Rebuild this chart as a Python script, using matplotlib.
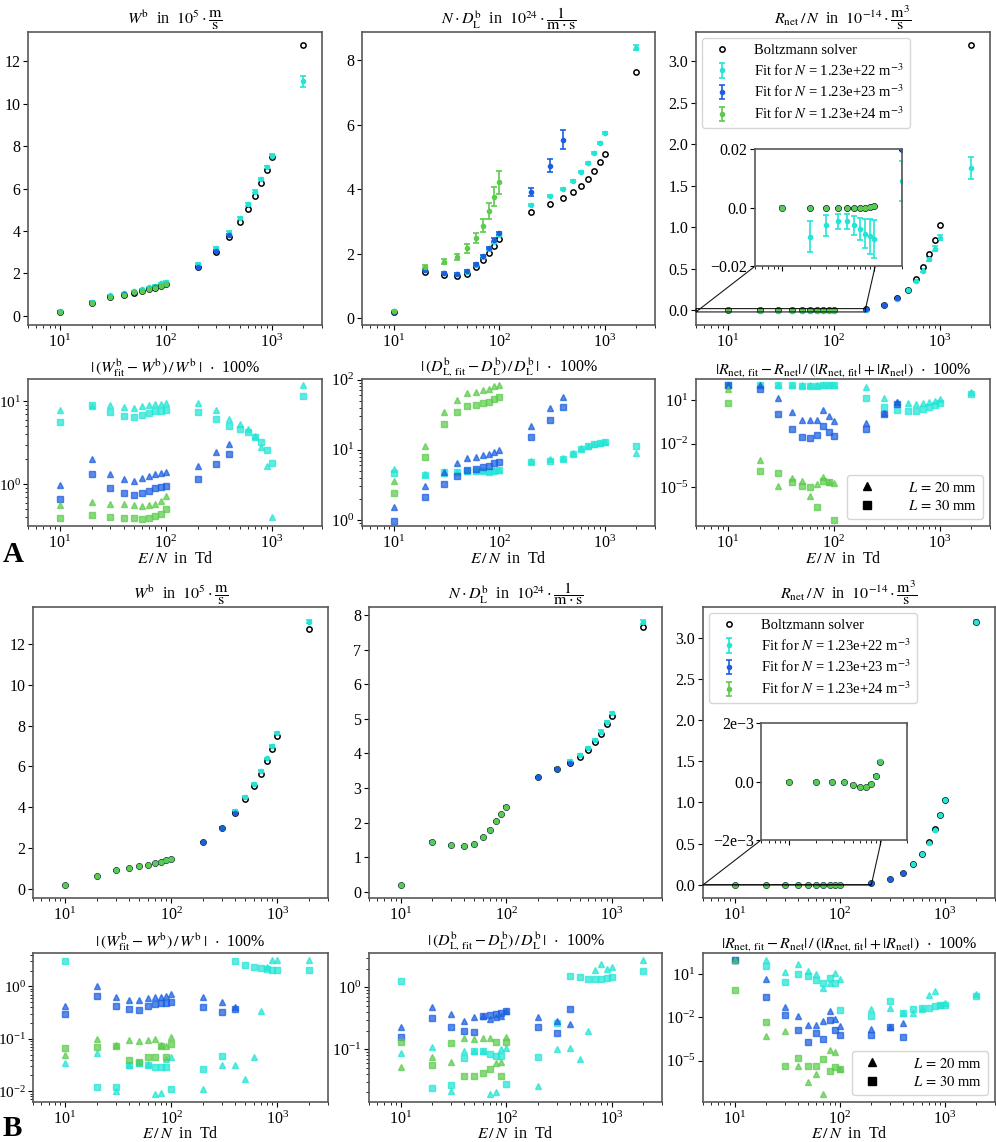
import matplotlib
matplotlib.use("Agg")
import matplotlib.pyplot as plt
from matplotlib.lines import Line2D
from matplotlib.ticker import NullLocator, FixedLocator

plt.rcParams['font.family'] = ['Liberation Serif', 'DejaVu Serif']
plt.rcParams['mathtext.fontset'] = 'stix'
plt.rcParams['font.size'] = 11
plt.rcParams['xtick.labelsize'] = 11.5
plt.rcParams['ytick.labelsize'] = 11.5
plt.rcParams['ytick.major.pad'] = 2
plt.rcParams['xtick.major.pad'] = 2.5
plt.rcParams['axes.edgecolor'] = '0.35'
plt.rcParams['axes.linewidth'] = 1.2

# ---------------- data ----------------
EN = [10, 20, 30, 40, 50, 60, 70, 80, 90, 100, 200, 300, 400, 500, 600, 700, 800, 900, 1000, 2000]

boltz_W = [0.2, 0.62, 0.9, 1.0, 1.1, 1.18, 1.25, 1.33, 1.42, 1.48, 2.28, 3.0, 3.72, 4.4, 5.03, 5.65, 6.27, 6.87, 7.47, 12.75]
boltz_D = [0.21, 1.45, 1.35, 1.32, 1.38, 1.59, 1.8, 2.04, 2.25, 2.46, 3.31, 3.55, 3.72, 3.91, 4.1, 4.32, 4.57, 4.84, 5.09, 7.64]
boltz_R = [0.0, 0.0, 0.0, -0.00003, -0.0001, -0.00017, -0.00018, -0.00007, 0.0002, 0.00069, 0.02, 0.067, 0.147, 0.248, 0.377, 0.52, 0.673, 0.851, 1.024, 3.19]

# Panel A fits
A_W_cyan = [0.215, 0.675, 0.97, 1.07, 1.17, 1.26, 1.34, 1.43, 1.53, 1.6, 2.45, 3.2, 3.92, 4.6, 5.25, 5.86, 6.45, 7.0, 7.55, 11.05]
A_W_cyan_err = [0.01, 0.02, 0.02, 0.02, 0.02, 0.02, 0.02, 0.02, 0.02, 0.03, 0.05, 0.06, 0.07, 0.07, 0.07, 0.07, 0.07, 0.07, 0.08, 0.25]
A_W_blue = [0.202, 0.628, 0.91, 1.01, 1.11, 1.19, 1.26, 1.34, 1.43, 1.49, 2.31, 3.05, 3.8]
A_W_blue_err = [0.005, 0.01, 0.01, 0.01, 0.01, 0.01, 0.01, 0.01, 0.01, 0.01, 0.03, 0.04, 0.05]
A_W_green = [0.201, 0.623, 0.904, 1.004, 1.104, 1.185, 1.256, 1.336, 1.427, 1.487]
A_W_green_err = [0.003, 0.005, 0.005, 0.005, 0.005, 0.005, 0.005, 0.005, 0.005, 0.005]

A_D_cyan = [0.22, 1.51, 1.41, 1.38, 1.45, 1.67, 1.89, 2.14, 2.36, 2.59, 3.52, 3.81, 4.0, 4.27, 4.54, 4.83, 5.14, 5.44, 5.75, 8.39]
A_D_cyan_err = [0.005, 0.02, 0.02, 0.02, 0.02, 0.02, 0.02, 0.02, 0.03, 0.03, 0.03, 0.03, 0.03, 0.03, 0.03, 0.03, 0.03, 0.03, 0.03, 0.08]
A_D_blue = [0.212, 1.49, 1.4, 1.38, 1.47, 1.69, 1.92, 2.18, 2.43, 2.64, 3.92, 4.74, 5.54]
A_D_blue_err = [0.005, 0.03, 0.03, 0.03, 0.03, 0.03, 0.04, 0.04, 0.05, 0.05, 0.12, 0.2, 0.3]
A_D_green = [0.22, 1.6, 1.76, 1.9, 2.17, 2.49, 2.88, 3.33, 3.78, 4.22]
A_D_green_err = [0.005, 0.05, 0.07, 0.1, 0.13, 0.16, 0.2, 0.24, 0.3, 0.35]

A_R_cyan = [0.0, -0.0099, -0.006, -0.0046, -0.0046, -0.006, -0.0072, -0.0088, -0.0097, -0.0105, 0.0091, 0.064, 0.14, 0.24, 0.353, 0.474, 0.614, 0.743, 0.871, 1.715]
A_R_cyan_err = [0.0005, 0.0053, 0.0036, 0.0026, 0.0026, 0.0033, 0.0037, 0.005, 0.006, 0.0065, 0.0069, 0.008, 0.01, 0.012, 0.015, 0.018, 0.022, 0.026, 0.03, 0.13]
A_R_blue = [0.0, 0.0, 0.0, -0.00003, -0.0001, -0.00017, -0.00018, -0.00007, 0.0002, 0.0007, 0.0201, 0.068, 0.15]
A_R_blue_err = [0.0001, 0.0001, 0.0001, 0.0001, 0.0001, 0.0001, 0.0001, 0.0001, 0.0001, 0.0001, 0.0004, 0.001, 0.002]
A_R_green = [0.0, 0.0, 0.0, -0.00003, -0.0001, -0.00017, -0.00018, -0.00007, 0.0002, 0.00069]
A_R_green_err = [0.00002, 0.00002, 0.00002, 0.00002, 0.00002, 0.00002, 0.00002, 0.00002, 0.00002, 0.00002]

# Panel B fits
B_W_cyan = [0.206, 0.62, 0.9, 1.0, 1.1, 1.18, 1.25, 1.33, 1.42, 1.48, 2.28, 3.0, 3.83, 4.52, 5.15, 5.78, 6.4, 7.02, 7.63, 13.08]
B_W_cyan_err = [0.002, 0.003, 0.003, 0.003, 0.003, 0.003, 0.003, 0.003, 0.003, 0.003, 0.01, 0.01, 0.02, 0.02, 0.02, 0.03, 0.03, 0.04, 0.05, 0.08]
B_W_blue = [0.2, 0.62, 0.9, 1.0, 1.1, 1.18, 1.25, 1.33, 1.42, 1.48, 2.28, 3.0, 3.73]
B_W_blue_err = [0.002, 0.003, 0.003, 0.003, 0.003, 0.003, 0.003, 0.003, 0.003, 0.003, 0.01, 0.01, 0.01]
B_W_green = [0.2, 0.62, 0.9, 1.0, 1.1, 1.18, 1.25, 1.33, 1.42, 1.48]
B_W_green_err = [0.002, 0.002, 0.002, 0.002, 0.002, 0.002, 0.002, 0.002, 0.002, 0.002]

B_D_cyan = [0.21, 1.45, 1.35, 1.32, 1.38, 1.59, 1.8, 2.04, 2.25, 2.46, 3.31, 3.55, 3.78, 3.96, 4.16, 4.38, 4.63, 4.91, 5.16, 7.8]
B_D_cyan_err = [0.003, 0.01, 0.01, 0.01, 0.01, 0.01, 0.01, 0.01, 0.01, 0.01, 0.01, 0.02, 0.02, 0.03, 0.03, 0.03, 0.04, 0.04, 0.04, 0.05]
B_D_blue = [0.21, 1.45, 1.35, 1.32, 1.38, 1.59, 1.8, 2.04, 2.25, 2.46, 3.31, 3.56, 3.73]
B_D_blue_err = [0.003, 0.01, 0.01, 0.01, 0.01, 0.01, 0.01, 0.01, 0.01, 0.01, 0.01, 0.01, 0.01]
B_D_green = [0.21, 1.45, 1.35, 1.32, 1.38, 1.59, 1.8, 2.04, 2.25, 2.46]
B_D_green_err = [0.003, 0.005, 0.005, 0.005, 0.005, 0.005, 0.005, 0.005, 0.005, 0.005]

B_R_cyan = [0.0, 0.0, 0.0, -0.00003, -0.0001, -0.00017, -0.00018, -0.00007, 0.0002, 0.0007, 0.02, 0.067, 0.147, 0.246, 0.37, 0.51, 0.67, 0.85, 1.03, 3.19]
B_R_cyan_err = [0.00001, 0.00001, 0.00001, 0.00001, 0.00001, 0.00001, 0.00001, 0.00001, 0.00001, 0.00001, 0.0002, 0.0005, 0.001, 0.002, 0.003, 0.004, 0.005, 0.006, 0.007, 0.02]
B_R_blue = [0.0, 0.0, 0.0, -0.00003, -0.0001, -0.00017, -0.00018, -0.00007, 0.0002, 0.00069, 0.02, 0.067, 0.147]
B_R_blue_err = [0.00001, 0.00001, 0.00001, 0.00001, 0.00001, 0.00001, 0.00001, 0.00001, 0.00001, 0.00001, 0.0002, 0.0005, 0.001]
B_R_green = [0.0, 0.0, 0.0, -0.00003, -0.0001, -0.00017, -0.00018, -0.00007, 0.0002, 0.00069]
B_R_green_err = [0.000005, 0.000005, 0.000005, 0.000005, 0.000005, 0.000005, 0.000005, 0.000005, 0.000005, 0.000005]

# Relative errors (%) : triangles L=20 mm, squares L=30 mm
A_relW_cyan_tri = [7.8, 8.7, 8.95, 8.5, 8.4, 8.7, 9.0, 9.3, 9.4, 9.6, 9.6, 7.8, 6.1, 5.3, 4.6, 3.8, 2.8, 1.67, 0.4, 15.6]
A_relW_cyan_sq = [5.7, 9.1, 7.5, 6.7, 6.5, 6.9, 7.2, 7.55, 7.7, 7.9, 7.5, 6.1, 5.1, 4.6, 4.3, 3.75, 3.25, 2.6, 1.8, 11.5]
A_relW_blue_tri = [0.98, 2.0, 1.32, 1.15, 1.1, 1.18, 1.24, 1.31, 1.35, 1.4, 1.64, 2.44, 3.05]
A_relW_blue_sq = [0.66, 1.32, 0.89, 0.78, 0.74, 0.79, 0.83, 0.89, 0.92, 0.95, 1.15, 1.76, 2.33]
A_relW_green_tri = [0.56, 0.61, 0.57, 0.57, 0.56, 0.55, 0.56, 0.58, 0.62, 0.72]
A_relW_green_sq = [0.39, 0.43, 0.40, 0.39, 0.39, 0.38, 0.39, 0.41, 0.44, 0.50]

A_relD_cyan_tri = [5.3, 4.5, 4.7, 4.8, 5.0, 5.1, 5.1, 5.0, 5.1, 5.2, 6.9, 7.3, 7.6, 9.0, 10.5, 11.5, 12.2, 12.6, 13.0, 8.95]
A_relD_cyan_sq = [4.6, 4.3, 4.8, 4.9, 5.0, 5.0, 5.0, 4.9, 5.0, 5.1, 6.7, 7.0, 7.4, 8.8, 10.2, 11.2, 11.9, 12.4, 12.7, 11.5]
A_relD_blue_tri = [1.52, 3.0, 4.8, 6.4, 7.6, 7.9, 8.3, 8.8, 9.4, 10.0, 22, 39, 56]
A_relD_blue_sq = [0.97, 2.1, 3.25, 4.25, 5.1, 5.3, 5.6, 5.9, 6.4, 6.8, 15.2, 27, 41]
A_relD_green_tri = [3.6, 11.5, 35, 51, 64, 66, 70, 73, 80, 85]
A_relD_green_sq = [2.4, 7.9, 23.5, 34, 42.5, 44, 46.5, 48.5, 53, 56.5]

A_relR_cyan_tri = [100, 100, 100, 100, 100, 100, 100, 100, 100, 100, 75, 14.5, 7.3, 5.9, 5.3, 6.5, 7.7, 9.0, 11, 32]
A_relR_cyan_sq = [100, 99, 98, 97, 95, 95, 96, 98, 99, 99, 13, 3.1, 2.0, 1.7, 1.8, 2.5, 3.4, 4.5, 6.5, 26]
A_relR_blue_tri = [98, 98, 13, 1.5, 0.41, 0.39, 0.41, 2.0, 0.78, 0.35, 0.24, 1.33, 7.3]
A_relR_blue_sq = [98, 58, 1.13, 0.093, 0.029, 0.026, 0.038, 0.16, 0.061, 0.034, 0.098, 1.07, 5.0]
A_relR_green_tri = [58, 7e-4, 1.2e-5, 4.5e-5, 2.9e-5, 2.4e-6, 1.6e-5, 5.4e-5, 2.5e-5, 1.9e-5]
A_relR_green_sq = [5.9, 1.4e-4, 1e-4, 2.2e-5, 1.2e-5, 1e-5, 4.6e-7, 2.9e-5, 2.2e-5, 5.8e-8]

B_relW_cyan_tri = [0.034, 0.053, 0.010, 0.032, 0.035, 0.033, 0.009, 0.0093, 0.042, 0.045, 0.011, 0.032, 0.031, 0.017, 0.045, 0.34, 2.35, 3.15, 3.15, 3.15]
B_relW_cyan_sq = [3.0, 0.012, 0.012, 0.031, 0.034, 0.031, 0.029, 0.029, 0.029, 0.011, 0.026, 0.047, 3.0, 2.6, 2.35, 2.25, 2.15, 2.08, 2.08, 2.08]
B_relW_blue_tri = [0.43, 1.0, 0.64, 0.55, 0.55, 0.6, 0.62, 0.64, 0.66, 0.71, 0.62, 0.5, 0.41]
B_relW_blue_sq = [0.295, 0.66, 0.43, 0.37, 0.36, 0.43, 0.46, 0.48, 0.49, 0.51, 0.41, 0.33, 0.37]
B_relW_green_tri = [0.05, 0.10, 0.076, 0.095, 0.092, 0.095, 0.098, 0.076, 0.073, 0.107]
B_relW_green_sq = [0.066, 0.069, 0.072, 0.039, 0.036, 0.044, 0.045, 0.072, 0.045, 0.079]

B_relD_cyan_tri = [0.086, 0.108, 0.021, 0.092, 0.092, 0.092, 0.019, 0.02, 0.1, 0.106, 0.025, 0.1, 0.106, 0.069, 0.194, 1.88, 2.42, 1.98, 2.1, 2.74]
B_relD_cyan_sq = [1.25, 0.024, 0.026, 0.072, 0.092, 0.092, 0.083, 0.078, 0.079, 0.027, 0.074, 0.27, 1.55, 1.45, 1.37, 1.37, 1.37, 1.42, 1.45, 1.82]
B_relD_blue_tri = [0.227, 0.48, 0.374, 0.29, 0.33, 0.347, 0.31, 0.33, 0.34, 0.41, 0.33, 0.29, 0.26]
B_relD_blue_sq = [0.155, 0.318, 0.227, 0.198, 0.19, 0.347, 0.36, 0.37, 0.38, 0.41, 0.227, 0.186, 0.45]
B_relD_green_tri = [0.051, 0.074, 0.061, 0.15, 0.147, 0.15, 0.15, 0.059, 0.061, 0.156]
B_relD_green_sq = [0.132, 0.055, 0.128, 0.037, 0.037, 0.042, 0.047, 0.133, 0.037, 0.133]

B_relR_cyan_tri = [100, 100, 14, 50, 15.4, 10.5, 1.05, 2.6, 11.7, 4.5, 0.039, 0.046, 0.022, 0.021, 0.039, 0.36, 0.68, 0.079, 0.1, 0.4]
B_relR_cyan_sq = [100, 38, 3.1, 10.5, 7.6, 4.0, 2.6, 5.2, 2.6, 0.032, 0.012, 0.135, 0.022, 0.037, 0.046, 0.049, 0.058, 0.079, 0.079, 0.3]
B_relR_blue_tri = [100, 4.7, 0.055, 0.012, 0.0032, 0.0028, 0.0057, 0.027, 0.0084, 0.0027, 0.0016, 0.0021, 0.0043]
B_relR_blue_sq = [100, 0.27, 0.014, 0.0014, 0.00021, 0.00086, 0.00033, 0.0063, 0.0014, 0.00063, 0.00066, 0.0021, 0.00047]
B_relR_green_tri = [100, 5e-4, 1.1e-3, 4.4e-6, 3.5e-7, 1.2e-6, 4.7e-8, 5.5e-5, 3.8e-5, 2.7e-6]
B_relR_green_sq = [0.8, 4.8e-3, 4e-6, 1.5e-5, 4e-6, 4.4e-6, 1.4e-5, 2e-6, 3.8e-6, 2.7e-6]

series_labels = ["Fit for $N$ = 1.23e+22 m$^{-3}$",
                 "Fit for $N$ = 1.23e+23 m$^{-3}$",
                 "Fit for $N$ = 1.23e+24 m$^{-3}$"]
COLORS = ['#22e5d5', '#1b5fe0', '#5ccb4c']

title_W = r"$W^{\mathrm{b}}$  in  $10^5\cdot\dfrac{\mathrm{m}}{\mathrm{s}}$"
title_D = r"$N\cdot D_{\mathrm{L}}^{\mathrm{b}}$  in  $10^{24}\cdot\dfrac{1}{\mathrm{m}\cdot\mathrm{s}}$"
title_R = r"$R_{\mathrm{net}}\,/\,N$  in  $10^{-14}\cdot\dfrac{\mathrm{m}^3}{\mathrm{s}}$"
title_rW = r"$|\,(W^{\mathrm{b}}_{\mathrm{fit}}-W^{\mathrm{b}})\,/\,W^{\mathrm{b}}\,|$  $\cdot$  100%"
title_rD = r"$|\,(D^{\mathrm{b}}_{\mathrm{L,\,fit}}-D^{\mathrm{b}}_{\mathrm{L}})\,/\,D^{\mathrm{b}}_{\mathrm{L}}\,|$  $\cdot$  100%"
title_rR = r"$|R_{\mathrm{net,\,fit}}-R_{\mathrm{net}}|\,/\,(|R_{\mathrm{net,\,fit}}|+|R_{\mathrm{net}}|)$  $\cdot$  100%"
xlabel_text = r"$E\,/\,N$  in  Td"

# ---------------- figure ----------------
W_PX, H_PX = 996, 1142
fig = plt.figure(figsize=(W_PX / 100, H_PX / 100), dpi=100)


def add_ax(l, t, r, b):
    return fig.add_axes([l / W_PX, 1 - b / H_PX, (r - l) / W_PX, (b - t) / H_PX])


def draw_fits(ax, boltz, fits, errs):
    handles = []
    for vals, err, c, lab in zip(fits, errs, COLORS, series_labels):
        h = ax.errorbar(EN[:len(vals)], vals, yerr=err, fmt='o', ms=3, color=c,
                        ecolor=c, elinewidth=1.2, capsize=2.5, capthick=1.2, label=lab)
        handles.append(h)
    hb, = ax.plot(EN, boltz, 'o', mfc='none', mec='black', ms=3.8, mew=1.1,
                  ls='none', label='Boltzmann solver')
    return [hb] + handles


def top_panel(ax, boltz, fits, errs, title):
    hs = draw_fits(ax, boltz, fits, errs)
    ax.set_xscale('log')
    ax.set_xlim(5, 3000)
    ax.set_title(title, pad=2, fontsize=11.5)
    return hs


def rel_panel(ax, tris, sqs, title, ylim, bottom_px, left_col=False):
    for tri, sq, c in zip(tris, sqs, COLORS):
        ax.plot(EN[:len(tri)], tri, '^', color=c, alpha=0.72, ms=4.8, ls='none')
        ax.plot(EN[:len(sq)], sq, 's', color=c, alpha=0.72, ms=4.5, ls='none')
    ax.set_xscale('log')
    ax.set_yscale('log')
    ax.set_xlim(5, 3000)
    ax.set_ylim(*ylim)
    ax.set_title(title, pad=3, fontsize=11.5)
    ax.set_xlabel(xlabel_text, fontsize=11.5)
    # place the label so its bottom sits at the given pixel row
    bb = ax.get_position()
    h_px = bb.height * H_PX
    ax_bottom_px = (1 - bb.y0) * H_PX
    ax.xaxis.label.set_va('bottom')
    ax.xaxis.set_label_coords(0.5, -(bottom_px - ax_bottom_px) / h_px)
    if left_col:
        ax.tick_params(axis='y', which='major', labelsize=11, pad=1.5)


def add_inset(ax, boltz, fits, errs, ylim, ticklabels):
    axins = ax.inset_axes([0.2, 0.2, 0.5, 0.4])
    draw_fits(axins, boltz, fits, errs)
    axins.set_xscale('log')
    axins.set_xlim(5, 200)
    axins.set_ylim(*ylim)
    axins.set_yticks([ylim[0], 0.0, ylim[1]])
    axins.set_yticklabels(ticklabels)
    axins.set_xticklabels([], minor=False)
    axins.set_xticklabels([], minor=True)
    ax.indicate_inset_zoom(axins, edgecolor='black', alpha=0.9, linewidth=0.8)


def legend_top(ax, hs):
    ax.legend(handles=hs, loc='upper left', fontsize=10.5, framealpha=0.8,
              edgecolor='0.8', handletextpad=1.2, borderaxespad=0.4, labelspacing=0.35)


def legend_rel(ax):
    hs = [Line2D([], [], marker='^', color='black', ls='none', ms=6),
          Line2D([], [], marker='s', color='black', ls='none', ms=5.5)]
    ax.legend(handles=hs, labels=[r"$L\,=\,20$ mm", r"$L\,=\,30$ mm"], loc='lower right',
              fontsize=10.5, framealpha=0.8, edgecolor='0.8', handletextpad=1.8,
              labelspacing=0.3)


def set_R_rel_ticks(ax):
    ax.yaxis.set_major_locator(FixedLocator([1e-5, 1e-2, 1e1]))
    ax.yaxis.set_minor_locator(NullLocator())


cols_top = [(28, 322), (362, 655), (696, 990)]
cols_bot = [(33, 328), (369, 662), (703, 995)]

# ---- Panel A ----
a1 = add_ax(cols_top[0][0], 32, cols_top[0][1], 325)
top_panel(a1, boltz_W, [A_W_cyan, A_W_blue, A_W_green], [A_W_cyan_err, A_W_blue_err, A_W_green_err], title_W)
a2 = add_ax(cols_top[1][0], 32, cols_top[1][1], 325)
top_panel(a2, boltz_D, [A_D_cyan, A_D_blue, A_D_green], [A_D_cyan_err, A_D_blue_err, A_D_green_err], title_D)
a3 = add_ax(cols_top[2][0], 32, cols_top[2][1], 325)
hs = top_panel(a3, boltz_R, [A_R_cyan, A_R_blue, A_R_green], [A_R_cyan_err, A_R_blue_err, A_R_green_err], title_R)
legend_top(a3, hs)
add_inset(a3, boltz_R, [A_R_cyan, A_R_blue, A_R_green], [A_R_cyan_err, A_R_blue_err, A_R_green_err],
          (-0.02, 0.02), ['\u22120.02', '0.0', '0.02'])

r1 = add_ax(cols_top[0][0], 379, cols_top[0][1], 526)
rel_panel(r1, [A_relW_cyan_tri, A_relW_blue_tri, A_relW_green_tri],
          [A_relW_cyan_sq, A_relW_blue_sq, A_relW_green_sq], title_rW, (0.313, 18.6), 567, left_col=True)
r2 = add_ax(cols_top[1][0], 379, cols_top[1][1], 526)
rel_panel(r2, [A_relD_cyan_tri, A_relD_blue_tri, A_relD_green_tri],
          [A_relD_cyan_sq, A_relD_blue_sq, A_relD_green_sq], title_rD, (0.82, 102), 567)
r3 = add_ax(cols_top[2][0], 379, cols_top[2][1], 526)
rel_panel(r3, [A_relR_cyan_tri, A_relR_blue_tri, A_relR_green_tri],
          [A_relR_cyan_sq, A_relR_blue_sq, A_relR_green_sq], title_rR, (10 ** -7.65, 10 ** 2.43), 567)
set_R_rel_ticks(r3)
legend_rel(r3)

# ---- Panel B ----
b1 = add_ax(cols_bot[0][0], 607, cols_bot[0][1], 898)
top_panel(b1, boltz_W, [B_W_cyan, B_W_blue, B_W_green], [B_W_cyan_err, B_W_blue_err, B_W_green_err], title_W)
b2 = add_ax(cols_bot[1][0], 607, cols_bot[1][1], 898)
top_panel(b2, boltz_D, [B_D_cyan, B_D_blue, B_D_green], [B_D_cyan_err, B_D_blue_err, B_D_green_err], title_D)
b3 = add_ax(cols_bot[2][0], 607, cols_bot[2][1], 898)
hs = top_panel(b3, boltz_R, [B_R_cyan, B_R_blue, B_R_green], [B_R_cyan_err, B_R_blue_err, B_R_green_err], title_R)
legend_top(b3, hs)
add_inset(b3, boltz_R, [B_R_cyan, B_R_blue, B_R_green], [B_R_cyan_err, B_R_blue_err, B_R_green_err],
          (-0.002, 0.002), ['\u22122e\u22123', '0.0', '2e\u22123'])

s1 = add_ax(cols_bot[0][0], 953, cols_bot[0][1], 1102)
rel_panel(s1, [B_relW_cyan_tri, B_relW_blue_tri, B_relW_green_tri],
          [B_relW_cyan_sq, B_relW_blue_sq, B_relW_green_sq], title_rW, (0.0062, 4.35), 1141.5, left_col=True)
s2 = add_ax(cols_bot[1][0], 953, cols_bot[1][1], 1102)
rel_panel(s2, [B_relD_cyan_tri, B_relD_blue_tri, B_relD_green_tri],
          [B_relD_cyan_sq, B_relD_blue_sq, B_relD_green_sq], title_rD, (0.014, 3.6), 1141.5)
s3 = add_ax(cols_bot[2][0], 953, cols_bot[2][1], 1102)
rel_panel(s3, [B_relR_cyan_tri, B_relR_blue_tri, B_relR_green_tri],
          [B_relR_cyan_sq, B_relR_blue_sq, B_relR_green_sq], title_rR, (10 ** -7.86, 10 ** 2.47), 1141.5)
set_R_rel_ticks(s3)
legend_rel(s3)

fig.text(3 / W_PX, 1 - 568 / H_PX, 'A', fontsize=21, fontweight='bold', va='bottom', ha='left')
fig.text(3 / W_PX, 1 - 1141.5 / H_PX, 'B', fontsize=21, fontweight='bold', va='bottom', ha='left')

fig.savefig('out.png', dpi=100)
